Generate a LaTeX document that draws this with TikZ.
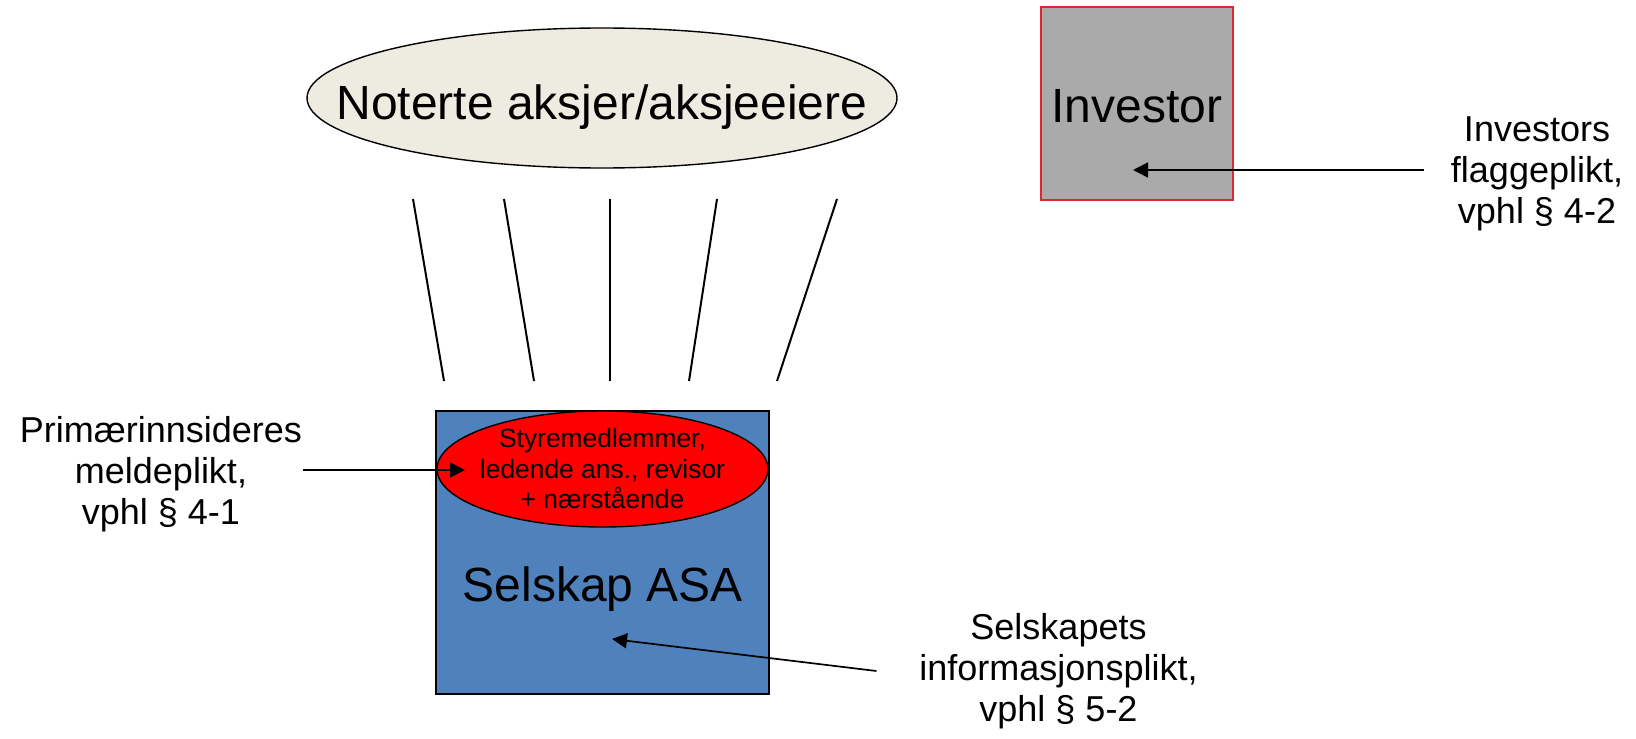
\documentclass[tikz,border=0pt]{standalone}
\usepackage{fontspec}
\setmainfont{Liberation Sans}
\usetikzlibrary{shapes.geometric,arrows.meta}

\definecolor{sharetan}{HTML}{EEECE1}
\definecolor{asablue}{HTML}{4F81BD}
\definecolor{invgray}{HTML}{AAAAAA}
\definecolor{invred}{HTML}{E0262E}

\tikzset{
  bigtext/.style={font=\fontsize{24}{28}\selectfont},
  smalltext/.style={align=center, font=\fontsize{13.2}{15.25}\selectfont},
  duty/.style={align=center, inner sep=0pt, font=\fontsize{18}{20.5}\selectfont},
  pointer/.style={->, line width=0.85pt},
}

\begin{document}
\begin{tikzpicture}[>={Triangle[length=7.5pt,width=7.5pt]}, x=0.5pt, y=-0.5pt, line width=1pt]
\useasboundingbox (0,0) rectangle (1636,738);

% shareholders and investor
\node[ellipse, draw, line width=0.7pt, fill=sharetan, minimum width=295pt, minimum height=70pt, inner sep=0pt,
  label={[bigtext, yshift=-4.5pt]center:Noterte aksjer/aksjeeiere}] (shares) at (602,98) {};
\node[draw=invred, fill=invgray, minimum width=96pt, minimum height=96.5pt] (investor) at (1137,103.5) {};
\node[bigtext] (invname) at (1137,106) {Investor};

% company with insiders
\node[draw, fill=asablue, minimum width=166.5pt, minimum height=141.5pt] (asa) at (602.5,552.5) {};
\node[ellipse, draw, line width=0.7pt, fill=red, minimum width=165.5pt, minimum height=58pt, inner sep=0pt,
  label={[smalltext]center:Styremedlemmer,\\ledende ans., revisor\\+ nærstående}] (insiders) at (602.5,469) {};
\node[bigtext] (asaname) at (603,589) {Selskap ASA};

% lines from the shareholders
\foreach \a/\b [count=\i] in {413/444,504/534,610/610,717/689,837/777}
{
    \coordinate (up\i) at (\a,199);
    \coordinate (down\i) at (\b,381);
    \draw (up\i) -- (down\i);
}

% duties
\node[duty] (insider) at (161,474) {Primærinnsideres\\meldeplikt,\\vphl § 4-1};
\node[duty] (flag) at (1537,174) {Investors\\flaggeplikt,\\vphl § 4-2};
\node[duty] (info) at (1058.5,671) {Selskapets\\informasjonsplikt,\\vphl § 5-2};

\coordinate (meldtip) at (465,470);
\coordinate (flagtip) at (1133,170);
\coordinate (infotip) at (612,639);
\draw[pointer] (insider.east |- meldtip) -- (meldtip);
\draw[pointer] ([xshift=-13pt]flag.west |- flagtip) -- (flagtip);
\draw[pointer] ([xshift=-21pt]info.west) -- (infotip);

\end{tikzpicture}
\end{document}
